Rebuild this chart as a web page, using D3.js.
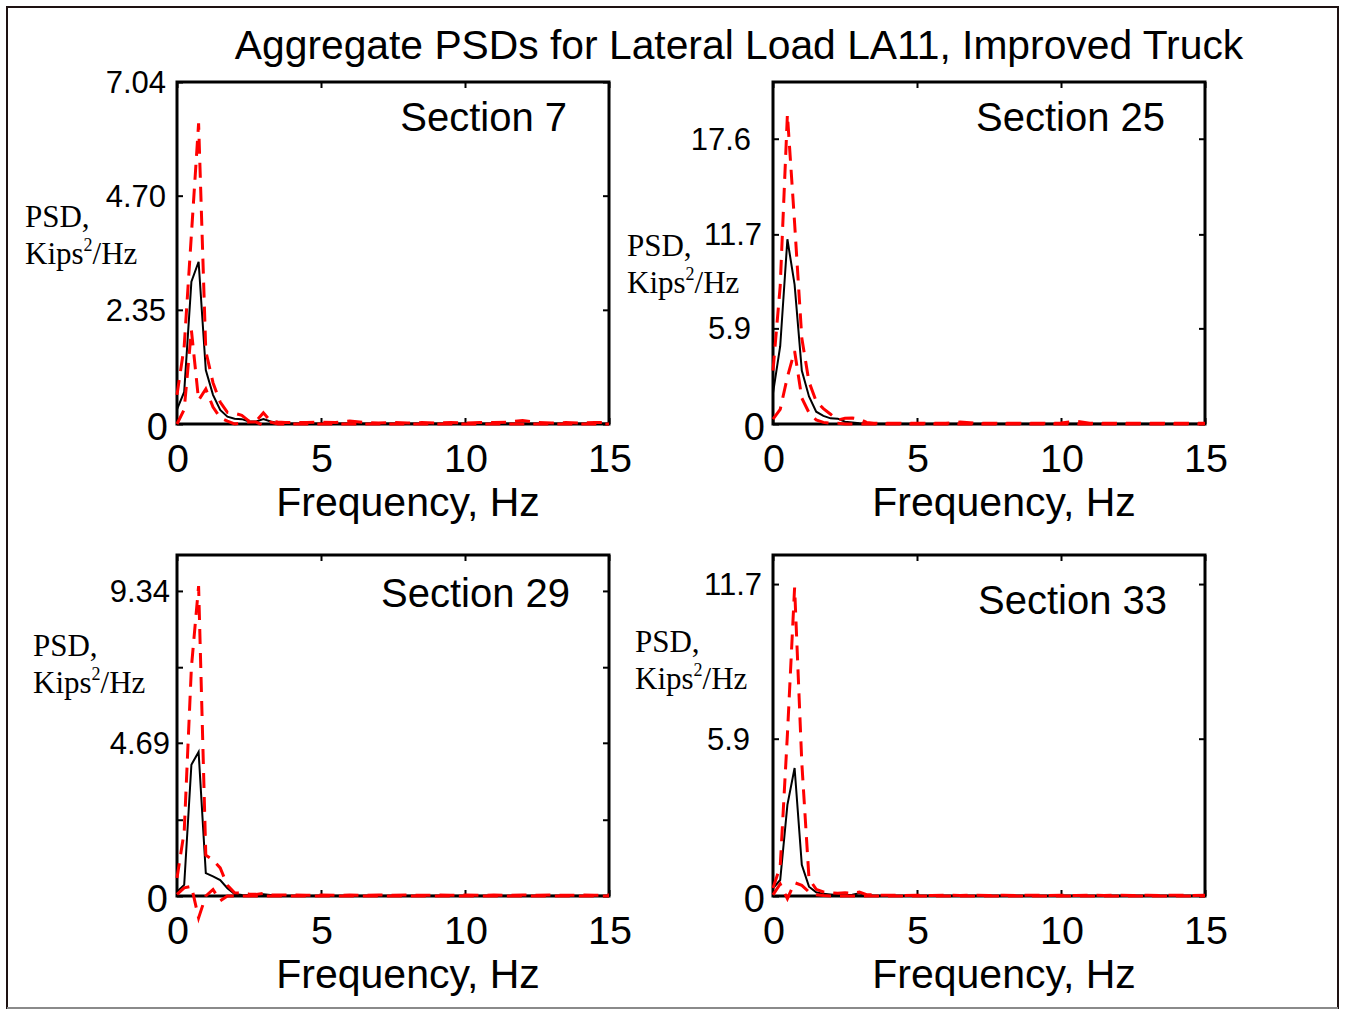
<!DOCTYPE html>
<html><head><meta charset="utf-8">
<script src="https://cdn.jsdelivr.net/npm/d3@7"></script>
<style>
body{margin:0;background:#fff;}
svg{display:block;}
text{font-family:"Liberation Sans",Arial,sans-serif;fill:#000;}
.serif{font-family:"Liberation Serif","Times New Roman",serif;}
</style></head>
<body>
<svg id="c" width="1346" height="1011"></svg>
<script>
const chartTitle = "Aggregate PSDs for Lateral Load LA11, Improved Truck";
const freq = [0,0.25,0.5,0.75,1,1.25,1.5,1.75,2,2.25,2.5,2.75,3,3.25,3.5,3.75,4,
  4.5,5,5.5,6,6.5,7,7.5,8,8.5,9,9.5,10,10.5,11,11.5,12,12.5,13,13.5,14,14.5,15];
const xTicks = [0,5,10,15];
const sectionNames = ["Section 7","Section 25","Section 29","Section 33"];

// Section 7
const s7Mean  = [0.30,0.66,2.93,3.34,1.11,0.60,0.29,0.15,0.11,0.10,0.05,0.05,0.10,0.05,0.02,0.01,0.01,
  0.01,0.01,0.01,0.01,0.01,0.01,0.01,0.01,0.01,0.01,0.01,0.01,0.01,0.01,0.01,0.01,0.01,0.01,0.01,0.01,0.01,0.01];
const s7Upper = [0.60,1.60,3.90,6.19,1.50,0.85,0.45,0.24,0.22,0.18,0.06,0.06,0.23,0.06,0.04,0.03,0.03,
  0.03,0.04,0.03,0.06,0.03,0.02,0.03,0.02,0.03,0.02,0.03,0.02,0.03,0.03,0.04,0.07,0.03,0.02,0.03,0.02,0.03,0.03];
const s7Lower = [0.00,0.30,1.93,0.49,0.72,0.35,0.13,0.06,0.00,0.02,0.04,0.04,-0.03,0.04,0.00,0.00,0.00,
  0.00,0.00,0.00,0.00,0.00,0.00,0.00,0.00,0.00,0.00,0.00,0.00,0.00,0.00,0.00,0.00,0.00,0.00,0.00,0.00,0.00,0.00];
// Section 25
const s25Mean  = [1.90,4.80,11.40,8.60,3.30,1.70,0.76,0.50,0.35,0.33,0.14,0.10,0.05,0.03,0.02,0.02,0.01,
  0.01,0.01,0.01,0.01,0.01,0.01,0.01,0.01,0.01,0.01,0.01,0.01,0.01,0.01,0.01,0.01,0.01,0.01,0.01,0.01,0.01,0.01];
const s25Upper = [3.30,8.50,19.10,12.40,5.30,2.60,1.40,0.95,0.60,0.25,0.35,0.37,0.30,0.10,0.05,0.05,0.04,
  0.04,0.05,0.04,0.05,0.12,0.05,0.04,0.05,0.04,0.05,0.04,0.06,0.18,0.05,0.04,0.05,0.04,0.05,0.04,0.05,0.04,0.05];
const s25Lower = [0.30,0.90,2.90,4.50,1.60,0.70,0.25,0.10,0.05,0.05,0.00,0.00,0.00,0.00,0.00,0.00,0.00,
  0.00,0.00,0.00,0.00,0.00,0.00,0.00,0.00,0.00,0.00,0.00,0.00,0.00,0.00,0.00,0.00,0.00,0.00,0.00,0.00,0.00,0.00];
// Section 29
const s29Mean  = [0.13,0.34,4.02,4.41,0.70,0.60,0.49,0.24,0.06,0.03,0.02,0.04,0.05,0.03,0.01,0.01,0.01,
  0.01,0.01,0.01,0.01,0.01,0.01,0.01,0.01,0.01,0.01,0.01,0.01,0.01,0.01,0.01,0.01,0.01,0.01,0.01,0.01,0.01,0.01];
const s29Upper = [0.55,1.97,7.00,9.49,1.25,1.10,0.86,0.33,0.10,0.08,0.06,0.05,0.08,0.03,0.03,0.03,0.03,
  0.02,0.03,0.02,0.03,0.02,0.03,0.02,0.03,0.02,0.03,0.02,0.03,0.02,0.03,0.02,0.03,0.02,0.03,0.02,0.03,0.02,0.03];
const s29Lower = [0.05,0.25,0.30,-0.67,0.00,0.20,-0.15,0.00,0.00,0.00,0.00,0.00,0.00,0.00,0.00,0.00,0.00,
  0.00,0.00,0.00,0.00,0.00,0.00,0.00,0.00,0.00,0.00,0.00,0.00,0.00,0.00,0.00,0.00,0.00,0.00,0.00,0.00,0.00,0.00];
// Section 33
const s33Mean  = [0.29,0.60,3.42,4.80,1.17,0.35,0.14,0.08,0.06,0.04,0.03,0.05,0.10,0.03,0.01,0.01,0.01,
  0.01,0.01,0.01,0.01,0.01,0.01,0.01,0.01,0.01,0.01,0.01,0.01,0.01,0.01,0.01,0.01,0.01,0.01,0.01,0.01,0.01,0.01];
const s33Upper = [0.30,1.10,6.05,11.57,5.00,0.65,0.25,0.15,0.12,0.10,0.12,0.10,0.15,0.05,0.04,0.03,0.03,
  0.02,0.03,0.02,0.03,0.02,0.03,0.02,0.03,0.02,0.03,0.02,0.03,0.02,0.03,0.02,0.03,0.02,0.03,0.02,0.03,0.02,0.03];
const s33Lower = [0.04,0.45,-0.10,0.50,0.40,0.15,0.05,0.02,0.00,0.00,0.00,0.00,0.00,0.00,0.00,0.00,0.00,
  0.00,0.00,0.00,0.00,0.00,0.00,0.00,0.00,0.00,0.00,0.00,0.00,0.00,0.00,0.00,0.00,0.00,0.00,0.00,0.00,0.00,0.00];

const yMaxes = [7.04, 21.1, 10.44, 12.79];
const yTickValues = [[0,2.35,4.70,7.04],[0,5.9,11.7,17.6],[0,2.335,4.69,7.005,9.34],[0,5.9,11.7]];
const yTickLabels = [["0","2.35","4.70","7.04"],["0","5.9","11.7","17.6"],["0","","4.69","","9.34"],["0","5.9","11.7"]];

const series = [[s7Mean,s7Upper,s7Lower],[s25Mean,s25Upper,s25Lower],[s29Mean,s29Upper,s29Lower],[s33Mean,s33Upper,s33Lower]];

// layout (not data)
const layout = [
  {x:177,y:82,h:342, secX:390,secY:49, psdX:-152,psdY:145, lblX:[-9,-11,-11,-11]},
  {x:773,y:82,h:342, secX:392,secY:49, psdX:-146,psdY:174, lblX:[-8,-22,-11,-22]},
  {x:177,y:555,h:341, secX:393,secY:52, psdX:-144,psdY:101, lblX:[-9,-7,-7,-7,-7]},
  {x:773,y:555,h:341, secX:394,secY:59, psdX:-138,psdY:97, lblX:[-8,-23,-11]}
];
const W = 432;

const svg = d3.select("#c");
svg.append("rect").attr("x",7).attr("y",7).attr("width",1331).attr("height",1001)
  .attr("fill","none").attr("stroke","#1e1212").attr("stroke-width",2);
svg.append("line").attr("x1",7).attr("x2",1338).attr("y1",1008).attr("y2",1008)
  .attr("stroke","#8a8a8a").attr("stroke-width",2);

svg.append("text").attr("x",739).attr("y",59).attr("text-anchor","middle")
  .style("font-size","40.8px").text(chartTitle);

layout.forEach((L,i)=>{
  const g = svg.append("g").attr("transform",`translate(${L.x},${L.y})`);
  const x = d3.scaleLinear().domain([0,15]).range([0,W]);
  const y = d3.scaleLinear().domain([0,yMaxes[i]]).range([L.h,0]);

  g.append("rect").attr("width",W).attr("height",L.h).attr("fill","none")
    .attr("stroke","#000").attr("stroke-width",3);

  const styleAxis = sel => { sel.select(".domain").remove();
    sel.selectAll(".tick line").attr("stroke","#000").attr("stroke-width",2);
    sel.selectAll(".tick text").remove(); };
  g.append("g").attr("transform",`translate(0,${L.h})`)
    .call(d3.axisBottom(x).tickValues(xTicks).tickSizeInner(-6).tickSizeOuter(0)).call(styleAxis);
  g.append("g").call(d3.axisTop(x).tickValues(xTicks).tickSizeInner(-6).tickSizeOuter(0)).call(styleAxis);
  g.append("g").call(d3.axisLeft(y).tickValues(yTickValues[i]).tickSizeInner(-6).tickSizeOuter(0)).call(styleAxis);
  g.append("g").attr("transform",`translate(${W},0)`)
    .call(d3.axisRight(y).tickValues(yTickValues[i]).tickSizeInner(-6).tickSizeOuter(0)).call(styleAxis);

  g.selectAll(".xl").data(xTicks).enter().append("text")
    .attr("x",d=>x(d)+1).attr("y",L.h+48).attr("text-anchor","middle")
    .style("font-size","39.5px").text(d=>d);
  yTickValues[i].forEach((v,k)=>{
    const lab = yTickLabels[i][k]; if(!lab) return;
    const big = lab==="0";
    g.append("text").attr("x",L.lblX[k]).attr("y",y(v)+(big?16:11))
      .attr("text-anchor","end").style("font-size",big?"38px":"31px").text(lab);
  });
  g.append("text").attr("x",W/2+15).attr("y",L.h+92).attr("text-anchor","middle")
    .style("font-size","41px").text("Frequency, Hz");
  g.append("text").attr("class","serif").attr("x",L.psdX).attr("y",L.psdY)
    .style("font-size","31px").text("PSD,");
  const t = g.append("text").attr("class","serif").attr("x",L.psdX).attr("y",L.psdY+37)
    .style("font-size","31px");
  t.append("tspan").text("Kips");
  t.append("tspan").attr("dy",-13).style("font-size","18px").text("2");
  t.append("tspan").attr("dy",13).text("/Hz");
  g.append("text").attr("x",L.secX).attr("y",L.secY).attr("text-anchor","end")
    .style("font-size","40px").text(sectionNames[i]);

  const line = d3.line().x((d,j)=>x(freq[j])).y(d=>y(d));
  const [m,u,lo] = series[i];
  g.append("path").attr("d",line(m)).attr("fill","none").attr("stroke","#000").attr("stroke-width",2);
  g.append("path").attr("d",line(u)).attr("fill","none").attr("stroke","#ff0000")
    .attr("stroke-width",3).attr("stroke-dasharray","15,9");
  g.append("path").attr("d",line(lo)).attr("fill","none").attr("stroke","#ff0000")
    .attr("stroke-width",3).attr("stroke-dasharray","15,9");
});
</script>
</body></html>
